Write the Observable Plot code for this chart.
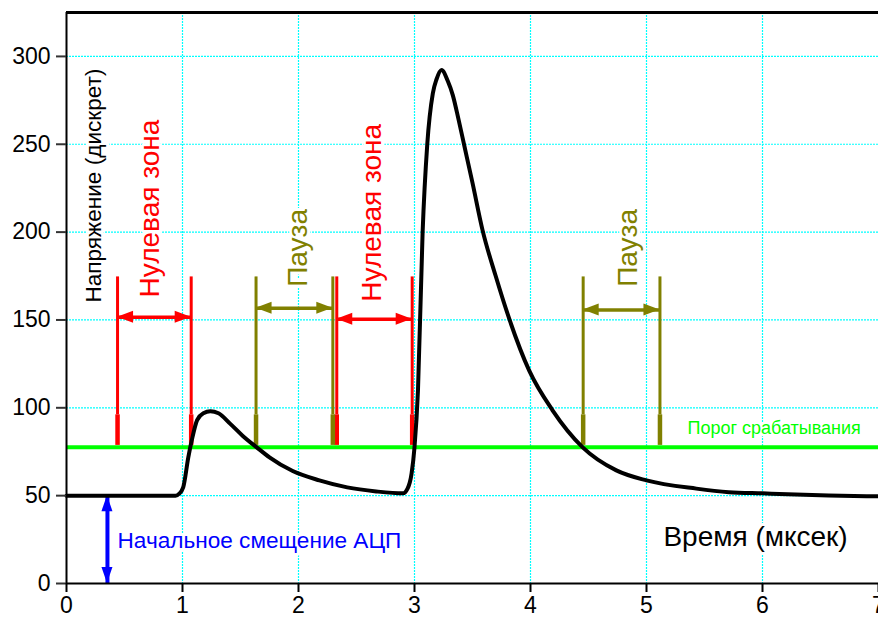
<!DOCTYPE html>
<html><head><meta charset="utf-8">
<script src="https://cdn.jsdelivr.net/npm/d3@7"></script>
<script src="https://cdn.jsdelivr.net/npm/@observablehq/plot@0.6"></script>
<style>body{margin:0;background:#fff;} #chart{width:878px;height:621px;}</style>
</head><body><div id="chart"></div>
<script>
// ---- data ----
const timeUs = [0,0.94,0.97,1.006,1.05,1.08,1.126,1.18,1.24,1.31,1.41,1.52,1.64,1.75,1.95,2.18,2.42,2.67,2.90,2.94,2.975,3.0,3.03,3.07,3.11,3.158,3.19,3.233,3.287,3.33,3.38,3.43,3.50,3.587,3.70,3.82,3.99,4.19,4.45,4.74,5.0,5.43,5.71,6.0,6.57,7.0];
const voltage = [50,50,51,54.7,71.8,81.5,93,96.9,98,96.9,91,84,77.5,71.8,64,58.7,54.7,52.4,51.3,54,62.7,77.5,110,200,250,279,287,292.3,286,278,264,249,228,201,175,150,121,98.6,77.5,64.4,58.7,54,52,51.3,50.1,49.6];
const xTicks = [0,1,2,3,4,5,6,7];
const yTicks = [0,50,100,150,200,250,300];
const xGrid = [1,2,3,4,5,6];
const yGrid = [50,100,150,200,250,300];
const threshold = 77.5;
const adcOffset = 50;
const adcOffsetX = 0.353;
const zeroZoneStart = [0.44, 2.33];
const zeroZoneEnd = [1.075, 2.98];
const zeroZoneArrowY = [151.6, 150.4];
const pauseStart = [1.634, 4.454];
const pauseEnd = [2.296, 5.116];
const pauseArrowY = [156.7, 155.6];
const markerTop = 174.5;
const markerKnee = 96;
const markerBottom = 78.6;
const labels = {
  yTitle: "Напряжение (дискрет)",
  xTitle: "Время (мксек)",
  zeroZone: "Нулевая зона",
  pause: "Пауза",
  threshold: "Порог срабатывания",
  offset: "Начальное смещение АЦП"
};

// ---- derived tables ----
const curve = timeUs.map((t, i) => ({t, v: voltage[i]}));
const zoneLines = zeroZoneStart.flatMap((s, i) => [{x: s}, {x: zeroZoneEnd[i]}]);
const pauseLines = pauseStart.flatMap((s, i) => [{x: s}, {x: pauseEnd[i]}]);
const zoneSpans = zeroZoneStart.map((s, i) => ({s, e: zeroZoneEnd[i], y: zeroZoneArrowY[i]}));
const pauseSpans = pauseStart.map((s, i) => ({s, e: pauseEnd[i], y: pauseArrowY[i]}));
const headsFrom = (spans) => spans.flatMap(d => {
  const m = (d.s + d.e) / 2;
  return [{x1: m, y1: d.y, x2: d.s, y2: d.y}, {x1: m, y1: d.y, x2: d.e, y2: d.y}];
});
const zoneHeads = headsFrom(zoneSpans);
const pauseHeads = headsFrom(pauseSpans);
const offsetHeads = [
  {x1: adcOffsetX, y1: adcOffset / 2, x2: adcOffsetX, y2: adcOffset},
  {x1: adcOffsetX, y1: adcOffset / 2, x2: adcOffsetX, y2: 0}
];
const zoneLabels = [{x: 0.724, y: 213.4}, {x: 2.638, y: 211}];
const pauseLabels = [{x: 2.0, y: 191}, {x: 4.845, y: 191}];

const font = "Liberation Sans, Arial, Helvetica, sans-serif";
const red = "#ff0000", olive = "#808000", green = "#00ff00", blue = "#0000ff", cyan = "#00ffff";

// filled triangular arrowheads placed through the plot's scales
function arrowHeads(data, color, len, half) {
  return (index, scales) => {
    const g = d3.create("svg:g").attr("fill", color);
    for (const d of data) {
      const x1 = scales.x(d.x1), y1 = scales.y(d.y1), x2 = scales.x(d.x2), y2 = scales.y(d.y2);
      const a = Math.atan2(y2 - y1, x2 - x1);
      const bx = x2 - len * Math.cos(a), by = y2 - len * Math.sin(a);
      const px = -Math.sin(a) * half, py = Math.cos(a) * half;
      g.append("path").attr("d", `M${x2},${y2}L${bx + px},${by + py}L${bx - px},${by - py}Z`);
    }
    return g.node();
  };
}

const chart = Plot.plot({
  width: 878,
  height: 621,
  marginLeft: 66,
  marginRight: 0,
  marginTop: 12,
  marginBottom: 38,
  style: {fontFamily: font, background: "#fff", color: "#000", overflow: "visible"},
  x: {domain: [0, 7]},
  y: {domain: [0, 325]},
  marks: [
    Plot.gridX(xGrid, {stroke: cyan, strokeOpacity: 1, strokeWidth: 1.2, strokeDasharray: "2,1"}),
    Plot.gridY(yGrid, {stroke: cyan, strokeOpacity: 1, strokeWidth: 1.2, strokeDasharray: "2,1"}),
    // text with white halo (interrupts grid)
    Plot.text([labels.yTitle], {x: 0.233, y: 226.5, text: d => d, rotate: -90, fontSize: 22.6, fill: "#000", stroke: "white", strokeWidth: 6}),
    Plot.text(zoneLabels, {x: "x", y: "y", text: () => labels.zeroZone, rotate: -90, fontSize: 28, fill: red, stroke: "white", strokeWidth: 6}),
    Plot.text(pauseLabels, {x: "x", y: "y", text: () => labels.pause, rotate: -90, fontSize: 28, fill: olive, stroke: "white", strokeWidth: 6}),
    Plot.text([labels.threshold], {x: 5.353, y: 88.2, text: d => d, textAnchor: "start", fontSize: 18, fill: green, stroke: "white", strokeWidth: 5}),
    Plot.text([labels.xTitle], {x: 5.94, y: 26.2, text: d => d, fontSize: 28, fill: "#000", stroke: "white", strokeWidth: 6}),
    Plot.text([labels.offset], {x: 0.44, y: 24.5, text: d => d, textAnchor: "start", fontSize: 22.6, fill: blue, stroke: "white", strokeWidth: 6}),
    // marker verticals
    Plot.ruleX(zoneLines, {x: "x", y1: markerKnee, y2: markerTop, stroke: red, strokeWidth: 3}),
    Plot.ruleX(zoneLines, {x: "x", y1: markerBottom, y2: markerKnee, stroke: red, strokeWidth: 4.5}),
    Plot.ruleX(pauseLines, {x: "x", y1: markerKnee, y2: markerTop, stroke: olive, strokeWidth: 3}),
    Plot.ruleX(pauseLines, {x: "x", y1: markerBottom, y2: markerKnee, stroke: olive, strokeWidth: 4.5}),
    // double arrows: shafts + filled heads
    Plot.ruleY(zoneSpans, {y: "y", x1: "s", x2: "e", stroke: red, strokeWidth: 3.5}),
    Plot.ruleY(pauseSpans, {y: "y", x1: "s", x2: "e", stroke: olive, strokeWidth: 3.5}),
    arrowHeads(zoneHeads, red, 16, 6),
    arrowHeads(pauseHeads, olive, 16, 6),
    Plot.ruleX([adcOffsetX], {y1: 0, y2: adcOffset, stroke: blue, strokeWidth: 4}),
    arrowHeads(offsetHeads, blue, 16, 5.5),
    // threshold
    Plot.ruleY([threshold], {stroke: green, strokeWidth: 4}),
    // signal
    Plot.line(curve, {x: "t", y: "v", stroke: "#000", strokeWidth: 4, curve: "monotone-x", strokeLinejoin: "round"}),
    // frame
    Plot.ruleY([325], {stroke: "#000", strokeWidth: 3}),
    Plot.ruleX([0], {stroke: "#000", strokeWidth: 2}),
    Plot.ruleY([0], {stroke: "#000", strokeWidth: 2}),
    Plot.axisY({ticks: yTicks, tickSize: 10, tickPadding: 6, fontSize: 23, label: null, stroke: "#333", strokeWidth: 2}),
    Plot.axisX({ticks: xTicks, tickFormat: d => String(d), tickSize: 9, tickPadding: 4, fontSize: 23, label: null, strokeWidth: 2})
  ]
});
document.getElementById("chart").appendChild(chart);
</script>
</body></html>
